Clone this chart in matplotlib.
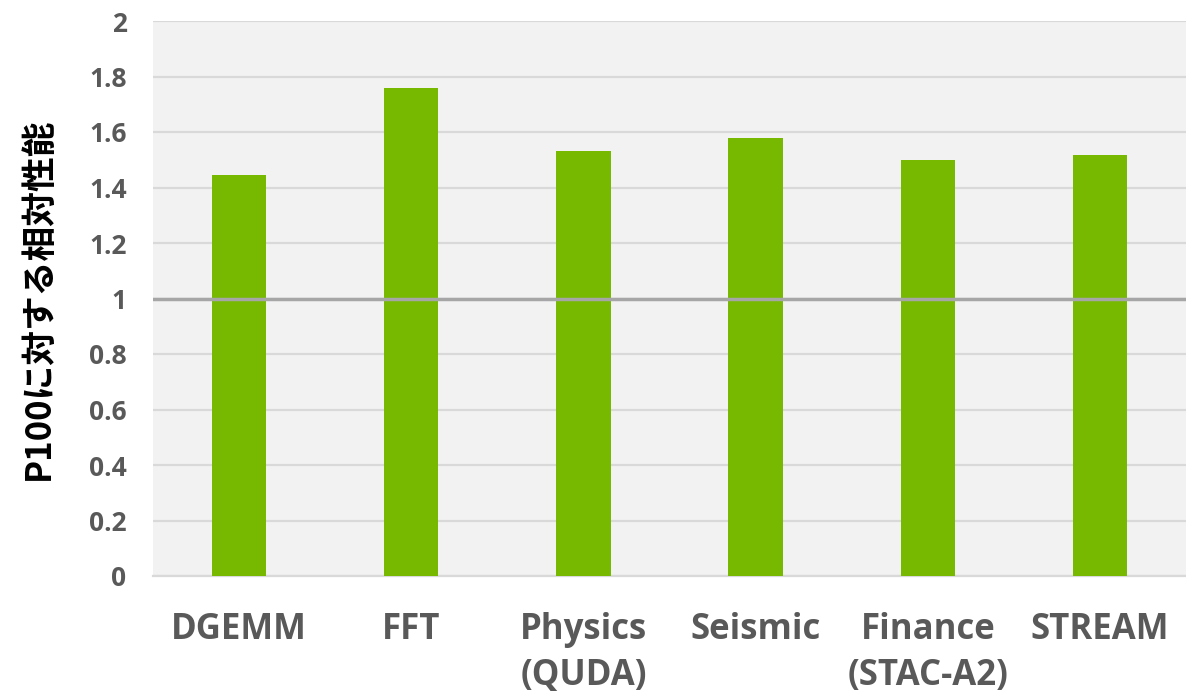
import matplotlib
matplotlib.use("Agg")
import matplotlib.pyplot as plt
import numpy as np

categories = ["DGEMM", "FFT", "Physics\n(QUDA)", "Seismic", "Finance\n(STAC-A2)", "STREAM"]
values = [1.445, 1.76, 1.53, 1.577, 1.50, 1.517]
yticks = [0, 0.2, 0.4, 0.6, 0.8, 1, 1.2, 1.4, 1.6, 1.8, 2]
ytick_labels = ["0", "0.2", "0.4", "0.6", "0.8", "1", "1.2", "1.4", "1.6", "1.8", "2"]
ylabel = "P100に対する相対性能"

fig = plt.figure(figsize=(11.86, 6.99), dpi=100)
ax = fig.add_axes([153 / 1186, 1 - 576 / 699, 1 - 153 / 1186, (576 - 21) / 699])
ax.set_facecolor("#f2f2f2")

x = np.arange(len(categories))
ax.bar(x, values, width=0.315, color="#76b900", zorder=3)

# Referenzlinie bei 1 liegt über den Balken
ax.axhline(1, color="#a6a6a6", linewidth=2.5, zorder=4)

ax.set_xlim(-0.5, len(categories) - 0.5)
ax.set_ylim(0, 2)
ax.set_yticks(yticks)
ax.set_yticklabels(ytick_labels)
ax.set_xticks(x)
ax.set_xticklabels(categories)

ax.grid(axis="y", color="#d9d9d9", linewidth=1.6, zorder=1)
for side in ["top", "right", "left"]:
    ax.spines[side].set_visible(False)
ax.spines["bottom"].set_color("#d9d9d9")
ax.spines["bottom"].set_linewidth(1.6)

ax.tick_params(axis="both", length=0)
ax.tick_params(axis="y", pad=19)
ax.tick_params(axis="x", pad=26)
for lab in ax.get_yticklabels():
    lab.set_fontfamily(["Open Sans", "DejaVu Sans"])
    lab.set_fontweight("bold")
    lab.set_fontsize(19)
    lab.set_color("#595959")
for lab in ax.get_xticklabels():
    lab.set_fontfamily(["Open Sans", "DejaVu Sans"])
    lab.set_fontweight("bold")
    lab.set_fontsize(25)
    lab.set_color("#595959")
    lab.set_linespacing(1.35)
    lab.set_verticalalignment("top")

ax.set_ylabel(ylabel, family=["Noto Sans CJK JP", "DejaVu Sans"], fontweight="bold",
              fontsize=25, color="black", labelpad=24)

fig.savefig("out.png", dpi=100)
